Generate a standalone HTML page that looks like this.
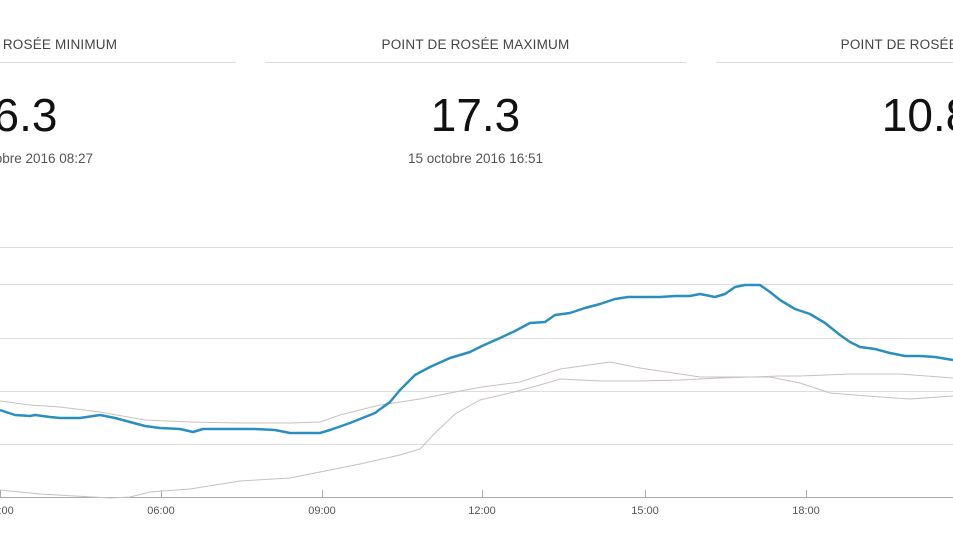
<!DOCTYPE html><html><head><style>
html,body{margin:0;width:953px;height:536px;overflow:hidden;background:#fff;font-family:"Liberation Sans",sans-serif;position:relative}
.c{position:absolute;width:421px;text-align:center}
.t{position:absolute;top:37px;width:100%;font-size:13.5px;color:#444;letter-spacing:0.2px}
.l{position:absolute;top:62px;width:100%;border-top:1px solid #ddd}
.n{position:absolute;top:88px;width:100%;font-size:46px;color:#111}
.d{position:absolute;top:151px;width:100%;font-size:13.5px;color:#555}
</style></head><body>
<div class="c" style="left:-185px"><div class="t">POINT DE ROSÉE MINIMUM</div><div class="l"></div><div class="n">6.3</div><div class="d">15 octobre 2016 08:27</div></div>
<div class="c" style="left:265px"><div class="t">POINT DE ROSÉE MAXIMUM</div><div class="l"></div><div class="n">17.3</div><div class="d">15 octobre 2016 16:51</div></div>
<div class="c" style="left:716px"><div class="t">POINT DE ROSÉE MOYEN</div><div class="l"></div><div class="n">10.8</div><div class="d"></div></div>
<svg style="position:absolute;left:0;top:0" width="953" height="536">
<g stroke="#ddd" stroke-width="1">
<line x1="0" x2="953" y1="247.5" y2="247.5"/><line x1="0" x2="953" y1="284.5" y2="284.5"/><line x1="0" x2="953" y1="338.5" y2="338.5"/><line x1="0" x2="953" y1="391.5" y2="391.5"/><line x1="0" x2="953" y1="444.5" y2="444.5"/></g>
<line x1="0" x2="953" y1="497.5" y2="497.5" stroke="#aaa"/>
<g stroke="#aaa"><line x1="0.5" x2="0.5" y1="490" y2="498"/><line x1="161.5" x2="161.5" y1="490" y2="498"/><line x1="322.5" x2="322.5" y1="490" y2="498"/><line x1="482.5" x2="482.5" y1="490" y2="498"/><line x1="645.5" x2="645.5" y1="490" y2="498"/><line x1="806.5" x2="806.5" y1="490" y2="498"/></g>
<g font-size="11" fill="#555" text-anchor="middle" font-family="Liberation Sans">
<text x="0" y="514">03:00</text><text x="161" y="514">06:00</text><text x="322" y="514">09:00</text><text x="482" y="514">12:00</text><text x="645" y="514">15:00</text><text x="806" y="514">18:00</text><text x="967" y="514">21:00</text></g>
<polyline fill="none" stroke="#c9c0c0" stroke-width="1" points="0,401 30,405 60,407 100,412 145,420 190,422 240,423 290,423 320,422 340,415 380,405 420,399 460,391 482,387 520,382 560,369 610,362 640,368 700,377 770,377 800,383 830,393 880,397 910,399 953,396"/>
<polyline fill="none" stroke="#c9c0c0" stroke-width="1" points="0,490 40,494 75,496 110,498 130,497 150,492 190,489 240,481 290,478 320,472 360,464 400,455 420,449 435,433 455,414 480,400 510,393 540,385 560,379 600,381 640,381 680,380 720,378 780,376 800,376 850,374 900,374 953,378"/>
<polyline fill="none" stroke="#2a8fc0" stroke-width="2.5" stroke-linejoin="round" points="0,410 15,415 30,416 35,415 50,417 60,418 80,418 100,415 115,418 130,422 145,426 160,428 180,429 193,432 203,429 220,429 255,429 275,430 290,433 320,433 330,430 350,423 375,413 390,402 400,390 415,375 430,367 450,358 470,352 482,346 500,338 515,331 530,323 545,322 555,315 570,313 585,308 600,304 615,299 628,297 645,297 660,297 675,296 690,296 700,294 715,297 725,294 735,287 745,285 760,285 770,292 780,300 795,309 810,314 825,323 840,335 850,342 860,347 875,349 890,353 905,356 920,356 935,357 953,360"/>
</svg>
</body></html>
